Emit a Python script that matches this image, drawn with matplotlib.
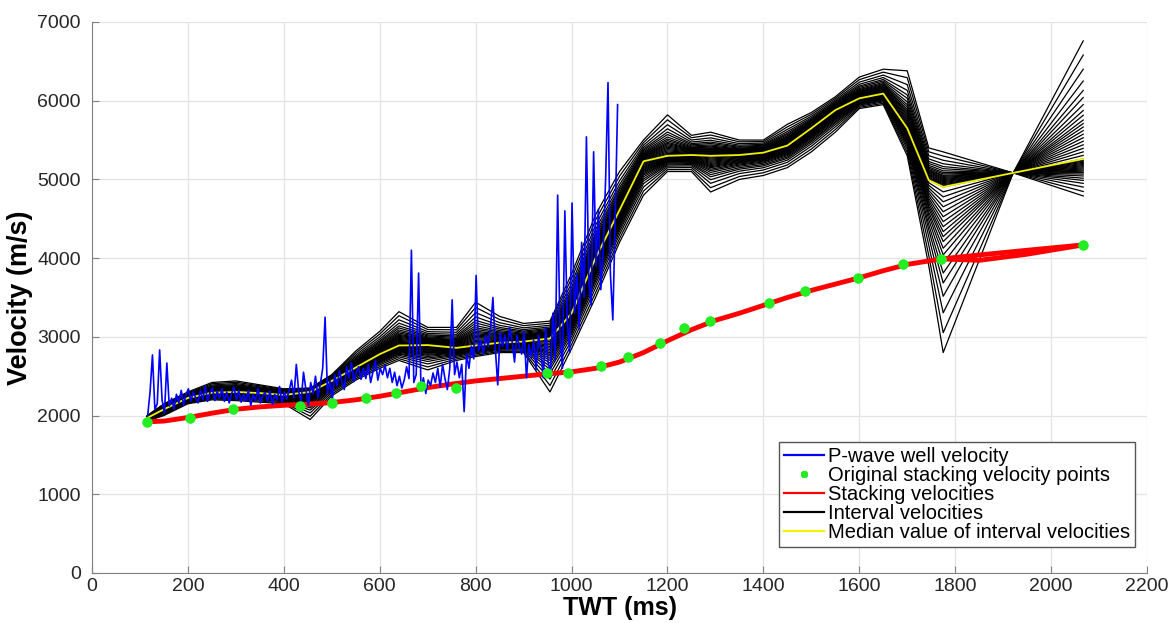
import numpy as np
import matplotlib
matplotlib.use('Agg')
import matplotlib.pyplot as plt

plt.rcParams['font.family'] = ['Liberation Sans', 'DejaVu Sans']

# original stacking velocity picks (TWT ms, m/s)
stack_t = [115, 204, 294, 434, 500, 571, 634, 686, 759, 949, 993, 1061, 1118,
           1185, 1235, 1289, 1412, 1487, 1597, 1691, 1771, 2067]
stack_v = [1920, 1970, 2084, 2122, 2160, 2224, 2287, 2376, 2350, 2541, 2541,
           2630, 2745, 2922, 3113, 3202, 3430, 3583, 3748, 3926, 3990, 4168]

# smoothed stacking velocity curve
red_t = [115, 150, 200, 250, 300, 350, 400, 450, 500, 550, 600, 650, 700, 750,
         800, 850, 900, 950, 1000, 1050, 1100, 1150, 1200, 1250, 1300, 1350,
         1400, 1450, 1500, 1550, 1600, 1650, 1700, 1771, 1850, 1950, 2067]
red_v = [1920, 1930, 1975, 2030, 2080, 2110, 2130, 2145, 2165, 2200, 2245,
         2300, 2355, 2400, 2440, 2470, 2500, 2530, 2555, 2600, 2680, 2800,
         2950, 3090, 3210, 3300, 3400, 3500, 3590, 3670, 3750, 3840, 3920,
         3990, 4040, 4100, 4168]
# lower branch of the stacking velocities at the deep end
red_low_t = [1771, 1850, 1950, 2067]
red_low_v = [3990, 3972, 4050, 4168]

# interval velocity ensemble: knot times, median, and the two outer members
int_t = [115, 150, 200, 250, 300, 350, 400, 455, 500, 550, 600, 640, 700, 760,
         800, 850, 900, 955, 1000, 1050, 1100, 1150, 1200, 1250, 1290, 1350,
         1400, 1450, 1500, 1550, 1600, 1650, 1700, 1745, 1775, 1921, 2067]
int_med = [1970, 2080, 2224, 2290, 2300, 2285, 2262, 2300, 2440, 2610, 2780,
           2890, 2895, 2860, 2890, 2925, 2940, 2980, 3300, 4000, 4610, 5230,
           5300, 5310, 5300, 5310, 5340, 5430, 5650, 5880, 6030, 6090, 5650,
           4990, 4905, 5083, 5260]
int_a = [1930, 2000, 2150, 2200, 2190, 2170, 2150, 1950, 2250, 2450, 2600,
         2700, 2580, 2700, 2750, 2800, 2800, 2300, 2850, 3500, 4200, 4800,
         5100, 5100, 4840, 5000, 5050, 5150, 5350, 5600, 5900, 5950, 5300,
         3900, 2800, 5083, 6760]
int_b = [2000, 2150, 2300, 2420, 2440, 2390, 2340, 2350, 2520, 2820, 3070,
         3320, 3120, 3120, 3440, 3260, 3170, 3200, 3800, 4550, 5100, 5500,
         5820, 5560, 5600, 5500, 5500, 5700, 5850, 6050, 6300, 6400, 6380,
         5400, 5350, 5083, 4790]
# position of each ensemble member between median (0) and outer members (-1 / +1)
member_pos = [-1.0, -0.88, -0.76, -0.66, -0.58, -0.52, -0.46, -0.41, -0.37,
              -0.33, -0.3, -0.27, -0.24, -0.21, -0.18, -0.15, -0.12, -0.09,
              -0.06, -0.03, 0.0, 0.03, 0.06, 0.09, 0.12, 0.15, 0.18, 0.21,
              0.24, 0.27, 0.3, 0.33, 0.37, 0.41, 0.46, 0.52, 0.58, 0.66, 0.76,
              0.88, 1.0]

# P-wave well log, 5 ms sampling from 116 ms
well_t0 = 116
well_dt = 5
well_v = [
    2000, 2300, 2770, 2080, 2150, 2834, 2200, 2030, 2668, 2120,
    2220, 2080, 2270, 2160, 2320, 2130, 2270, 2340, 2180, 2300,
    2230, 2160, 2320, 2200, 2370, 2180, 2290, 2350, 2190, 2310,
    2220, 2340, 2180, 2300, 2160, 2280, 2360, 2200, 2320, 2170,
    2280, 2180, 2320, 2130, 2270, 2190, 2350, 2160, 2260, 2290,
    2180, 2310, 2140, 2270, 2200, 2370, 2170, 2300, 2210, 2320,
    2450, 2230, 2650, 2300, 2180, 2550, 2330, 2130, 2420, 2280,
    2500, 2230, 2400, 2600, 3250, 2280, 2450, 2200, 2520, 2380,
    2570, 2430, 2330, 2620, 2480, 2670, 2430, 2550, 2620, 2460,
    2600, 2470, 2650, 2420, 2560, 2700, 2450, 2600, 2520, 2640,
    2480, 2600, 2420, 2550, 2380, 2500, 2350, 2450, 2620, 2470,
    4100, 2420, 2520, 3810, 2330, 2480, 2280, 2450, 2380, 2540,
    2420, 2600, 2360, 2650, 2470, 2330, 2600, 3470, 2520, 2680,
    2480, 2650, 2050, 2780, 2600, 2880, 2720, 3780, 2820, 2950,
    2780, 3020, 2880, 3120, 3500, 2850, 2390, 3060, 2880, 3020,
    2830, 3120, 2940, 2680, 3020, 2880, 2780, 3070, 2480, 2900,
    2740, 2960, 2580, 3020, 2830, 2480, 3120, 2680, 2540, 3300,
    2700, 4800, 3000, 2600, 4600, 3200, 2800, 4700, 3300, 3800,
    3100, 4200, 3500, 5540, 3700, 3400, 5350, 3900, 4620, 3600,
    4100, 5000, 6230, 3800, 3215, 4500, 5950,
]
well_t = well_t0 + well_dt * np.arange(len(well_v))

fig = plt.figure(figsize=(11.71, 6.23), dpi=100)
ax = fig.add_axes([0.0786, 0.0803, 0.9009, 0.8844])

med = np.array(int_med, dtype=float)
ea = np.array(int_a, dtype=float)
eb = np.array(int_b, dtype=float)
for i, w in enumerate(member_pos):
    if w < 0:
        v = med + (-w) * (ea - med)
    else:
        v = med + w * (eb - med)
    ax.plot(int_t, v, color='black', lw=0.9, zorder=2,
            label='Interval velocities' if i == 0 else None)

ax.plot(int_t, int_med, color='#f2f200', lw=1.3, zorder=3,
        label='Median value of interval velocities')
ax.plot(red_low_t, red_low_v, color='red', lw=3.5, zorder=4)
ax.plot(red_t, red_v, color='red', lw=3.5, zorder=4,
        label='Stacking velocities')
ax.plot(well_t, well_v, color='blue', lw=1.2, zorder=5,
        label='P-wave well velocity')
ax.plot(stack_t, stack_v, linestyle='none', marker=(8, 2, 0), ms=7, mew=2.5,
        color='#22ee22', zorder=6, label='Original stacking velocity points')

ax.set_xlim(0, 2200)
ax.set_ylim(0, 7000)
ax.set_xticks(range(0, 2201, 200))
ax.set_yticks(range(0, 7001, 1000))
ax.grid(True, color='#e3e3e3', lw=0.9)
ax.set_axisbelow(True)
for s in ['top', 'right']:
    ax.spines[s].set_visible(False)
for s in ['left', 'bottom']:
    ax.spines[s].set_color('#808080')
ax.tick_params(direction='in', length=5, labelsize=14, colors='#808080',
               labelcolor='#262626')
ax.tick_params(axis='y', pad=8)
ax.set_xlabel('TWT (ms)', fontsize=18, fontweight='bold', labelpad=1)
ax.set_ylabel('Velocity (m/s)', fontsize=19.5, fontweight='bold', labelpad=3)

h, l = ax.get_legend_handles_labels()
order = ['P-wave well velocity', 'Original stacking velocity points',
         'Stacking velocities', 'Interval velocities',
         'Median value of interval velocities']
hh = [h[l.index(o)] for o in order]
leg = ax.legend(hh, order, loc='lower right', bbox_to_anchor=(0.989, 0.047),
                borderaxespad=0, fontsize=14.5, fancybox=False, framealpha=1,
                edgecolor='#555555', handlelength=2.0, handletextpad=0.2,
                labelspacing=0.0, borderpad=0.25)
leg.get_frame().set_linewidth(1.0)
# legend keys drawn thinner, like the original
for lh in leg.legend_handles:
    lh.set_linewidth(1.6)
    lh.set_markersize(5)
leg.legend_handles[1].set_markeredgewidth(2)

fig.savefig('out.png', dpi=100)
